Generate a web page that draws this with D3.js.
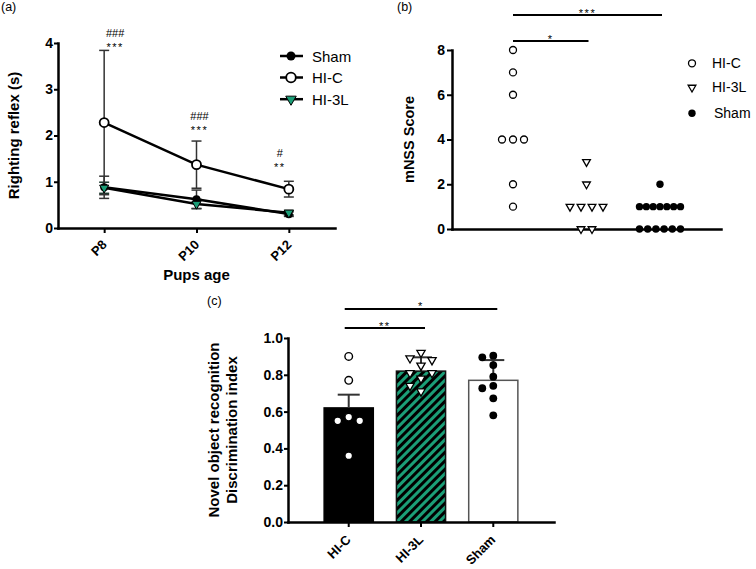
<!DOCTYPE html>
<html>
<head>
<meta charset="utf-8">
<script src="https://cdn.jsdelivr.net/npm/d3@7"></script>
<style>
    body { margin: 0; background: #fff; }
    svg text { font-family: Arial, "Liberation Sans", sans-serif; fill: #000; }
</style>
</head>
<body>
<div id="chart"></div>
<script>

// ---------- (a) righting reflex ----------
var ages = ["P8", "P10", "P12"];
var shamMean = [0.88, 0.62, 0.30];
var shamErr = [0.24, 0.20, 0.05];
var hicMean = [2.28, 1.37, 0.84];
var hicErr = [1.56, 0.51, 0.17];
var hi3lMean = [0.87, 0.52, 0.33];
var hi3lErr = [0.12, 0.10, 0.05];
var reflexTicks = [0, 1, 2, 3, 4];
var sigHash = ["###", "###", "#"];
var sigStars = ["***", "***", "**"];
var sigLevel = [3.82, 2.03, 1.23];

// ---------- (b) mNSS ----------
var groups = ["HI-C", "HI-3L", "Sham"];
var mnssHIC = [8, 7, 6, 4, 4, 4, 2, 1];
var mnssHI3L = [3, 2, 1, 1, 1, 1, 0, 0];
var mnssSham = [2, 1, 1, 1, 1, 1, 1, 1, 0, 0, 0, 0, 0, 0];
var mnssTicks = [0, 2, 4, 6, 8];
var mnssSig = [
    { from: "HI-C", to: "Sham", label: "***", level: 9.56 },
    { from: "HI-C", to: "HI-3L", label: "*", level: 8.4 }
];

// ---------- (c) novel object recognition ----------
var norHIC = [0.90, 0.77, 0.55, 0.55, 0.57, 0.36];
var norHI3L = [0.92, 0.88, 0.85, 0.89, 0.81, 0.81, 0.78, 0.74, 0.71];
var norSham = [0.895, 0.904, 0.853, 0.79, 0.74, 0.727, 0.672, 0.58];
var norMean = [0.62, 0.82, 0.77];
var norErr = [0.072, 0.075, 0.11];
var norTicks = [0, 0.2, 0.4, 0.6, 0.8, 1.0];
var norSig = [
    { from: "HI-C", to: "Sham", label: "*", level: 1.158 },
    { from: "HI-C", to: "HI-3L", label: "**", level: 1.054 }
];

var green = "#1b9e77";
var fontStack = "Arial, 'Liberation Sans', sans-serif";

var svg = d3.select("#chart").append("svg")
    .attr("width", 756)
    .attr("height", 569);

//pattern for the HI-3L bar
svg.append("defs").append("pattern")
    .attr("id", "hatch")
    .attr("patternUnits", "userSpaceOnUse")
    .attr("width", 6)
    .attr("height", 6)
    .attr("patternTransform", "rotate(45)")
    .call(function (p) {
        p.append("rect").attr("width", 6).attr("height", 6).attr("fill", "#000");
        p.append("rect").attr("width", 3).attr("height", 6).attr("fill", green);
    });

var triangle = function (area) {
    return d3.symbol().type(d3.symbolTriangle).size(area)();
};

/**
 * Styles an axis group the way the prism figures look
 */
function styleAxis(g) {
    g.select(".domain")
        .attr("stroke", "#000")
        .attr("stroke-width", 2.5)
        .attr("stroke-linecap", "square");
    g.selectAll(".tick line")
        .attr("stroke", "#000")
        .attr("stroke-width", 2);
    g.selectAll(".tick text")
        .style("font", "bold 14px " + fontStack)
        .attr("fill", "#000");
}

//rotated category labels under an x axis
function slantLabels(g, dy) {
    g.selectAll(".tick text")
        .style("font-size", "13px")
        .attr("x", 3).attr("y", dy).attr("dy", 0)
        .attr("text-anchor", "end")
        .attr("transform", "rotate(-45,3," + dy + ")");
}

function panelLabel(txt, x, y) {
    svg.append("text")
        .attr("x", x)
        .attr("y", y)
        .style("font-size", "12.5px")
        .text(txt);
}

function sigBar(xScale, yScale, d, off) {
    var x1 = xScale(d.from) + off[0], x2 = xScale(d.to) + off[1], y = yScale(d.level);
    svg.append("line")
        .attr("x1", x1).attr("x2", x2)
        .attr("y1", y).attr("y2", y)
        .attr("stroke", "#000")
        .attr("stroke-width", 2);
    svg.append("text")
        .attr("x", (x1 + x2) / 2)
        .attr("y", y + 1.5)
        .attr("text-anchor", "middle")
        .style("font-size", "11px")
        .style("letter-spacing", "1.5px")
        .text(d.label);
}

// =================== PANEL A ===================
function drawPanelA() {
    var x = d3.scalePoint().domain(ages).range([58, 335]).padding(0.5);
    var y = d3.scaleLinear().domain([0, 4]).range([228, 43]);

    panelLabel("(a)", 1, 11);

    svg.append("g")
        .attr("transform", "translate(0," + y(0) + ")")
        .call(d3.axisBottom(x).tickSize(5).tickSizeOuter(0))
        .call(styleAxis)
        .call(slantLabels, 17.5);

    svg.append("g")
        .attr("transform", "translate(" + x.range()[0] + ",0)")
        .call(d3.axisLeft(y).tickValues(reflexTicks).tickFormat(d3.format("d")).tickSize(4).tickPadding(1).tickSizeOuter(0))
        .call(styleAxis);

    svg.append("text")
        .attr("transform", "translate(19," + (y(0) + y(4)) / 2 + ") rotate(-90)")
        .attr("text-anchor", "middle")
        .style("font", "bold 15px " + fontStack)
        .text("Righting reflex (s)");

    svg.append("text")
        .attr("x", x("P10"))
        .attr("y", 280)
        .attr("text-anchor", "middle")
        .style("font", "bold 15px " + fontStack)
        .text("Pups age");

    var series = [
        { name: "HI-3L", mean: hi3lMean, err: hi3lErr },
        { name: "Sham", mean: shamMean, err: shamErr },
        { name: "HI-C", mean: hicMean, err: hicErr }
    ];

    //error bars first, so the markers sit on top
    series.forEach(function (s) {
        ages.forEach(function (a, i) {
            var cx = x(a), lo = y(s.mean[i] - s.err[i]), hi = y(s.mean[i] + s.err[i]);
            var col = s.name == "HI-3L" ? "#1d3b30" : "#333";
            svg.append("line").attr("x1", cx).attr("x2", cx).attr("y1", lo).attr("y2", hi)
                .attr("stroke", col).attr("stroke-width", 1.5);
            [lo, hi].forEach(function (yy) {
                svg.append("line").attr("x1", cx - 5).attr("x2", cx + 5).attr("y1", yy).attr("y2", yy)
                    .attr("stroke", col).attr("stroke-width", 1.5);
            });
        });
    });

    var line = d3.line()
        .x(function (d, i) { return x(ages[i]); })
        .y(function (d) { return y(d); });

    series.forEach(function (s) {
        svg.append("path")
            .attr("d", line(s.mean))
            .attr("fill", "none")
            .attr("stroke", "#000")
            .attr("stroke-width", 2.5);
    });

    //markers
    ages.forEach(function (a, i) {
        svg.append("circle").attr("cx", x(a)).attr("cy", y(shamMean[i])).attr("r", 4).attr("fill", "#000");
        svg.append("path").attr("d", triangle(36))
            .attr("transform", "translate(" + x(a) + "," + y(hi3lMean[i]) + ") rotate(180)")
            .attr("fill", green).attr("stroke", "#000").attr("stroke-width", 1);
        svg.append("circle").attr("cx", x(a)).attr("cy", y(hicMean[i])).attr("r", 4.5)
            .attr("fill", "#fff").attr("stroke", "#000").attr("stroke-width", 1.8);
    });

    //significance marks above HI-C
    var sigNudge = [11, 3, -9];
    ages.forEach(function (a, i) {
        var sx = x(a) + sigNudge[i], sy = y(sigLevel[i]);
        svg.append("text").attr("x", sx).attr("y", sy).attr("text-anchor", "middle")
            .style("font-size", "11px").style("letter-spacing", "1.5px").text(sigStars[i]);
        svg.append("text").attr("x", sx).attr("y", sy - 14).attr("text-anchor", "middle")
            .style("font-size", "11px").text(sigHash[i]);
    });

    //legend
    var legend = [
        { name: "Sham", y: 61.5 },
        { name: "HI-C", y: 83 },
        { name: "HI-3L", y: 104.7 }
    ];
    legend.forEach(function (d) {
        var my = d.y - 5.5;
        svg.append("line").attr("x1", 280).attr("x2", 303).attr("y1", my).attr("y2", my)
            .attr("stroke", "#000").attr("stroke-width", 2.5);
        if (d.name == "Sham") {
            svg.append("circle").attr("cx", 291).attr("cy", my).attr("r", 4.5).attr("fill", "#000");
        } else if (d.name == "HI-C") {
            svg.append("circle").attr("cx", 291).attr("cy", my).attr("r", 4.8)
                .attr("fill", "#fff").attr("stroke", "#000").attr("stroke-width", 1.8);
        } else {
            svg.append("path").attr("d", triangle(48))
                .attr("transform", "translate(291," + my + ") rotate(180)")
                .attr("fill", green).attr("stroke", "#000").attr("stroke-width", 1);
        }
        svg.append("text").attr("x", 312).attr("y", d.y).style("font-size", "15px").text(d.name);
    });
}

// =================== PANEL B ===================
function drawPanelB() {
    var x = d3.scalePoint().domain(groups).range([452, 721]).padding(0.83);
    var y = d3.scaleLinear().domain([0, 8]).range([229, 50]);

    panelLabel("(b)", 397, 11);

    svg.append("g")
        .attr("transform", "translate(0," + y(0) + ")")
        .call(d3.axisBottom(x).tickValues([]).tickSizeOuter(0))
        .call(styleAxis);

    svg.append("g")
        .attr("transform", "translate(" + x.range()[0] + ",0)")
        .call(d3.axisLeft(y).tickValues(mnssTicks).tickFormat(d3.format("d")).tickSize(5).tickPadding(2).tickSizeOuter(0))
        .call(styleAxis);

    svg.append("text")
        .attr("transform", "translate(413.5," + (y(0) + y(8)) / 2 + ") rotate(-90)")
        .attr("text-anchor", "middle")
        .style("font", "bold 14.5px " + fontStack)
        .text("mNSS Score");

    var scores = { "HI-C": mnssHIC, "HI-3L": mnssHI3L, "Sham": mnssSham };

    groups.forEach(function (g) {
        //spread the animals that share a score side by side
        var byScore = d3.group(scores[g], function (d) { return d; });
        byScore.forEach(function (vals, v) {
            var n = vals.length;
            var step = n > 1 ? Math.min(11, 41 / (n - 1)) : 0;
            vals.forEach(function (d, i) {
                var cx = x(g) + (i - (n - 1) / 2) * step, cy = y(v);
                if (g == "HI-C") {
                    svg.append("circle").attr("cx", cx).attr("cy", cy).attr("r", 3.5)
                        .attr("fill", "#fff").attr("stroke", "#000").attr("stroke-width", 1.3);
                } else if (g == "HI-3L") {
                    svg.append("path").attr("d", triangle(26))
                        .attr("transform", "translate(" + cx + "," + cy + ") rotate(180)")
                        .attr("fill", "#fff").attr("stroke", "#000").attr("stroke-width", 1.3);
                } else {
                    svg.append("circle").attr("cx", cx).attr("cy", cy).attr("r", 3.7).attr("fill", "#000");
                }
            });
        });
    });

    mnssSig.forEach(function (d) { sigBar(x, y, d, [0, 2]); });

    //legend
    svg.append("circle").attr("cx", 692).attr("cy", 63.3).attr("r", 3.5)
        .attr("fill", "#fff").attr("stroke", "#000").attr("stroke-width", 1.3);
    svg.append("path").attr("d", triangle(26))
        .attr("transform", "translate(692,87.5) rotate(180)")
        .attr("fill", "#fff").attr("stroke", "#000").attr("stroke-width", 1.3);
    svg.append("circle").attr("cx", 692).attr("cy", 113.3).attr("r", 3.7).attr("fill", "#000");
    svg.append("text").attr("x", 712).attr("y", 68.3).style("font-size", "14px").text("HI-C");
    svg.append("text").attr("x", 712).attr("y", 91.5).style("font-size", "14px").text("HI-3L");
    svg.append("text").attr("x", 714).attr("y", 118).style("font-size", "14px").text("Sham");
}

// =================== PANEL C ===================
function dodge(values, y, gap, step) {
    var placed = [];
    values.slice().sort(function (a, b) { return b - a; }).forEach(function (v) {
        var py = y(v);
        for (var k = 0; k < 20; k++) {
            var off = k == 0 ? 0 : (k % 2 ? -1 : 1) * Math.ceil(k / 2) * step;
            var free = placed.every(function (p) { return Math.hypot(p.dx - off, p.py - py) >= gap; });
            if (free) {
                placed.push({ v: v, dx: off, py: py });
                break;
            }
        }
    });
    return placed;
}

function drawPanelC() {
    var x = d3.scaleBand().domain(groups).range([288, 554]).paddingInner(0.32).paddingOuter(0.5);
    var y = d3.scaleLinear().domain([0, 1]).range([522, 338]);

    panelLabel("(c)", 207, 305);

    var fills = { "HI-C": "#000", "HI-3L": "url(#hatch)", "Sham": "#fff" };
    var edges = { "HI-C": "#000", "HI-3L": "#111", "Sham": "#555" };

    //bars
    svg.selectAll(".norBar")
        .data(groups)
        .enter()
        .append("rect")
        .attr("class", "norBar")
        .attr("x", function (d) { return x(d); })
        .attr("width", x.bandwidth())
        .attr("y", function (d, i) { return y(norMean[i]); })
        .attr("height", function (d, i) { return y(0) - y(norMean[i]); })
        .attr("fill", function (d) { return fills[d]; })
        .attr("stroke", function (d) { return edges[d]; })
        .attr("stroke-width", 1.5);

    //upper error bars
    groups.forEach(function (g, i) {
        var cx = x(g) + x.bandwidth() / 2;
        var top = y(norMean[i] + norErr[i]);
        svg.append("line").attr("x1", cx).attr("x2", cx).attr("y1", y(norMean[i])).attr("y2", top)
            .attr("stroke", "#333").attr("stroke-width", 2);
        svg.append("line").attr("x1", cx - 11).attr("x2", cx + 11).attr("y1", top).attr("y2", top)
            .attr("stroke", "#333").attr("stroke-width", 2);
    });

    //individual animals
    var points = { "HI-C": norHIC, "HI-3L": norHI3L, "Sham": norSham };
    groups.forEach(function (g) {
        var cx = x(g) + x.bandwidth() / 2;
        dodge(points[g], y, 9, 11).forEach(function (p) {
            if (g == "HI-C") {
                svg.append("circle").attr("cx", cx + p.dx).attr("cy", p.py).attr("r", 3.8)
                    .attr("fill", "#fff").attr("stroke", "#000").attr("stroke-width", 1.4);
            } else if (g == "HI-3L") {
                svg.append("path").attr("d", triangle(30))
                    .attr("transform", "translate(" + (cx + p.dx) + "," + p.py + ") rotate(180)")
                    .attr("fill", "#fff").attr("stroke", "#000").attr("stroke-width", 1.3);
            } else {
                svg.append("circle").attr("cx", cx + p.dx).attr("cy", p.py).attr("r", 3.9).attr("fill", "#000");
            }
        });
    });

    svg.append("g")
        .attr("transform", "translate(0," + y(0) + ")")
        .call(d3.axisBottom(x).tickSize(5).tickSizeOuter(0))
        .call(styleAxis)
        .call(slantLabels, 18.5);

    svg.append("g")
        .attr("transform", "translate(" + x.range()[0] + ",0)")
        .call(d3.axisLeft(y).tickValues(norTicks).tickFormat(d3.format(".1f")).tickSize(4).tickPadding(1).tickSizeOuter(0))
        .call(styleAxis);

    var midY = (y(0) + y(1)) / 2;
    svg.append("text")
        .attr("transform", "translate(219," + midY + ") rotate(-90)")
        .attr("text-anchor", "middle")
        .style("font", "bold 15px " + fontStack)
        .text("Novel object recognition");
    svg.append("text")
        .attr("transform", "translate(237," + midY + ") rotate(-90)")
        .attr("text-anchor", "middle")
        .style("font", "bold 15px " + fontStack)
        .text("Discrimination index");

    var xc = function (g) { return x(g) + x.bandwidth() / 2; };
    norSig.forEach(function (d) { sigBar(xc, y, d, [-4, 4]); });
}

drawPanelA();
drawPanelB();
drawPanelC();

</script>
</body>
</html>
